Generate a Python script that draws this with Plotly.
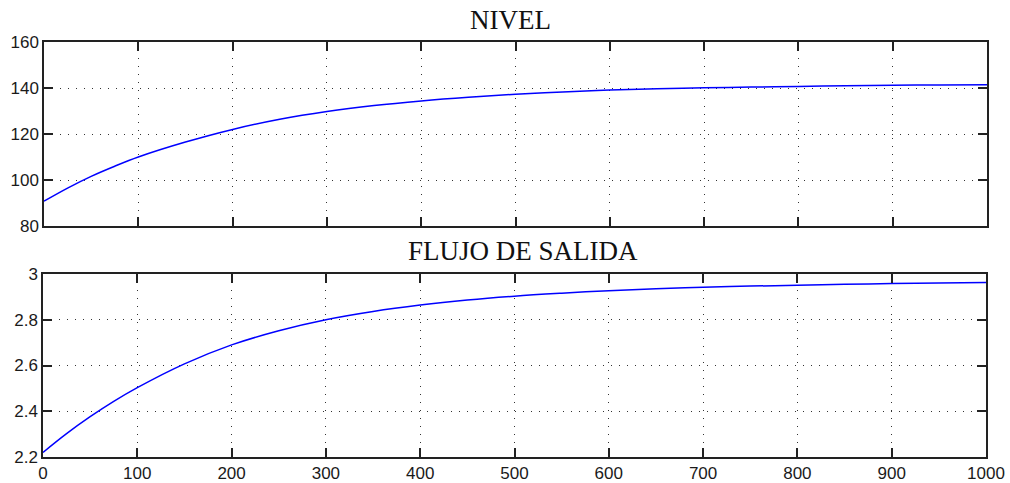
import plotly.graph_objects as go
from plotly.subplots import make_subplots

t = [0, 25, 50, 75, 100, 150, 200, 250, 300, 350, 400, 450, 500, 550, 600, 650, 700, 750, 800, 850, 900, 950, 1000]
nivel = [90.8, 96.5, 101.6, 106.0, 110.0, 116.5, 122.0, 126.4, 129.8, 132.4, 134.4, 136.0, 137.3, 138.3, 139.1, 139.7, 140.1, 140.4, 140.7, 141.0, 141.2, 141.3, 141.4]
flujo = [2.220, 2.302, 2.376, 2.443, 2.503, 2.607, 2.690, 2.752, 2.800, 2.836, 2.864, 2.886, 2.903, 2.916, 2.927, 2.935, 2.942, 2.947, 2.951, 2.955, 2.958, 2.961, 2.963]

titles = ["NIVEL", "FLUJO DE SALIDA"]
x_ticks = [0, 100, 200, 300, 400, 500, 600, 700, 800, 900, 1000]
nivel_ticks = [80, 100, 120, 140, 160]
flujo_ticks = [2.2, 2.4, 2.6, 2.8, 3.0]
flujo_ticktext = ["2.2", "2.4", "2.6", "2.8", "3"]

W, H = 1010, 483
fig = make_subplots(rows=2, cols=1)

fig.add_trace(go.Scatter(x=t, y=nivel, mode="lines", line=dict(color="#0000ff", width=1.5, shape="spline", smoothing=1.0),
                         showlegend=False, hoverinfo="skip"), row=1, col=1)
fig.add_trace(go.Scatter(x=t, y=flujo, mode="lines", line=dict(color="#0000ff", width=1.5, shape="spline", smoothing=1.0),
                         showlegend=False, hoverinfo="skip"), row=2, col=1)

axis_common = dict(
    showline=True, linecolor="#222222", linewidth=1.5, mirror="allticks",
    ticks="inside", ticklen=9, tickcolor="#222222", tickwidth=1.5,
    showgrid=True, gridcolor="#333333", gridwidth=1, griddash="1px,7px",
    zeroline=False, automargin=False,
    tickfont=dict(family="Liberation Sans, Arial, sans-serif", size=17, color="#1a1a1a"),
)

fig.update_layout(
    template="none",
    width=W, height=H,
    margin=dict(l=0, r=0, t=0, b=0, pad=0),
    paper_bgcolor="white", plot_bgcolor="white",
    xaxis=dict(domain=[44 / W, 987 / W], range=[0, 1000], tickvals=x_ticks, showticklabels=False, **axis_common),
    yaxis=dict(domain=[(H - 226) / H, (H - 42) / H], range=[80, 160], tickvals=nivel_ticks, **axis_common),
    xaxis2=dict(domain=[43 / W, 986 / W], range=[0, 1000], tickvals=x_ticks, **axis_common),
    yaxis2=dict(domain=[(H - 457) / H, (H - 274) / H], range=[2.2, 3.0], tickvals=flujo_ticks,
                ticktext=flujo_ticktext, **axis_common),
)

fig.add_annotation(text=titles[0], x=510 / W, y=(H - 20) / H, xref="paper", yref="paper",
                   xanchor="center", yanchor="middle", showarrow=False,
                   font=dict(family="Liberation Serif, Times New Roman, serif", size=27, color="#111111"))
fig.add_annotation(text=titles[1], x=523 / W, y=(H - 251) / H, xref="paper", yref="paper",
                   xanchor="center", yanchor="middle", showarrow=False,
                   font=dict(family="Liberation Serif, Times New Roman, serif", size=27, color="#111111"))

fig.write_html("out.html", config={"displayModeBar": False},
               post_script="document.body.style.margin='0';document.body.style.overflow='hidden';")
